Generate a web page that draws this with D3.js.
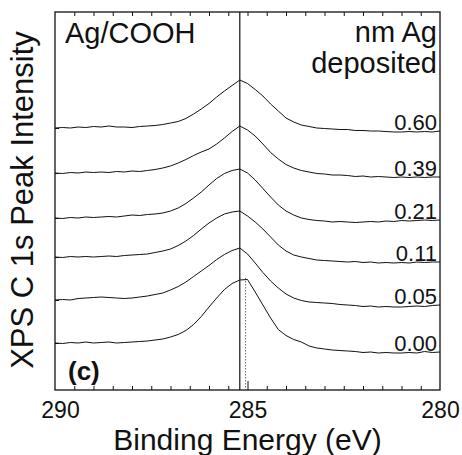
<!DOCTYPE html>
<html>
<head>
<meta charset="utf-8">
<script src="https://cdn.jsdelivr.net/npm/d3@7"></script>
<style>
  body { margin: 0; background: #fff; }
  text { font-family: "Liberation Sans", Arial, sans-serif; fill: #111; }
</style>
</head>
<body>
<div class="container"></div>
<script>
// binding energies (eV), shared by all spectra
const energy = [290, 289.8, 289.6, 289.4, 289.2, 289, 288.8, 288.6, 288.4, 288.2,
  288, 287.8, 287.6, 287.4, 287.2, 287, 286.8, 286.6, 286.4, 286.2,
  286, 285.8, 285.6, 285.4, 285.2, 285, 284.8, 284.6, 284.4, 284.2,
  284, 283.8, 283.6, 283.4, 283.2, 283, 282.8, 282.6, 282.4, 282.2,
  282, 281.8, 281.6, 281.4, 281.2, 281, 280.8, 280.6, 280.4, 280.2, 280];

// nm Ag deposited, one label per spectrum (top to bottom)
const coverage = ["0.60", "0.39", "0.21", "0.11", "0.05", "0.00"];

// stacked C 1s intensities (arb. units, offset already applied)
const s060 = [262, 262.5, 262, 263, 262.5, 263.5, 263, 264, 263, 263, 262.5, 263.5, 264, 264.5, 265.5, 267, 268.5, 271.5, 276, 281,
  286.5, 293, 299, 304.5, 310, 306.5, 300.5, 294, 286, 279, 272, 268, 265, 263.5, 262, 261.5, 261, 260.5, 260.5, 259.5,
  259.5, 259, 259, 258.5, 258, 258, 258.5, 258, 258.5, 258, 259];
const s039 = [217, 216.5, 217.5, 217, 218, 217.5, 218, 217.5, 218.5, 218, 219, 218.5, 219.5, 220.5, 222, 224, 227, 230.5, 234.5, 238,
  241, 246, 252, 258.5, 264, 260, 254, 246, 237.5, 231, 225.5, 222, 219.5, 218, 216.5, 216, 215, 215, 214.5, 213.5,
  214, 213, 213.5, 213, 212.5, 213, 212.5, 213, 212.5, 213, 213];
const s021 = [172, 171.5, 172.5, 172, 173, 172.5, 173, 173.5, 173, 174, 175, 174.5, 175.5, 176, 177, 179, 182, 186.5, 192, 198,
  205, 211.5, 216.5, 219.5, 221, 217, 210, 201.5, 193, 185, 179, 175, 172, 170.5, 169.5, 169, 168, 168.5, 168, 167.5,
  168, 168.5, 168, 169, 168.5, 169.5, 169, 169.5, 170, 169.5, 170];
const s011 = [133, 132.5, 133.5, 133, 133.5, 133, 133.5, 134, 133.5, 134.5, 135, 135.5, 136, 137.5, 139, 141, 144.5, 149, 154.5, 161,
  167, 172, 176, 178, 179, 174, 168, 161, 153, 145, 139, 135, 133, 131.5, 130, 129.5, 129, 128.5, 128, 128.5,
  127.5, 128, 127, 127.5, 127, 127.5, 127, 128, 127.5, 128, 128];
const s005 = [90, 90.5, 90, 91.5, 92, 92.5, 93, 92.5, 92, 91.5, 92, 93, 94, 95.5, 97, 100, 103.5, 108, 113.5, 119,
  124.5, 130.5, 135.5, 139.5, 142, 136, 127, 117.5, 109, 102, 96, 92, 89.5, 88, 87.5, 87, 86.5, 85.5, 85, 84.5,
  83.5, 84, 83, 83.5, 83, 83, 83.5, 84, 83.5, 84.5, 85];
const s000 = [47, 46.5, 47.5, 47, 48, 47, 47.5, 48, 47, 47.5, 48, 48.5, 49, 50, 51, 53, 55.5, 59.5, 65.5, 73.5,
  83, 92, 100.5, 106.5, 110, 110.5, 98, 85, 72, 60.5, 54.5, 50.5, 48, 44, 42, 41, 40, 39.5, 39, 38.5,
  37.5, 38, 37, 37.5, 37, 37, 37.5, 37, 38.5, 37.5, 38];
const spectra = [s060, s039, s021, s011, s005, s000];

const majorTicks = [290, 285, 280];
const minorTicks = [289.5, 289, 288.5, 288, 287.5, 287, 286.5, 286, 285.5, 284.5, 284, 283.5, 283, 282.5, 282, 281.5, 281, 280.5];
const refSolid = 285.2;   // solid reference line
const refDotted = 285.05; // dotted reference line

const svgW = 462, svgH = 455;
const plot = {left: 55, right: 440, top: 12, bottom: 390};

const svg = d3.select(".container").append("svg")
    .attr("width", svgW).attr("height", svgH);

const x = d3.scaleLinear().domain([290, 280]).range([plot.left, plot.right]);
const y = d3.scaleLinear().domain([0, 378]).range([plot.bottom, plot.top]);

// frame
svg.append("rect")
    .attr("x", plot.left).attr("y", plot.top)
    .attr("width", plot.right - plot.left).attr("height", plot.bottom - plot.top)
    .attr("fill", "none").attr("stroke", "#111").attr("stroke-width", 1.3);

// ticks (inward)
function tidy(g) { g.select(".domain").remove(); g.selectAll("line").attr("stroke", "#111"); }
svg.append("g").attr("transform", "translate(0," + plot.bottom + ")")
    .call(d3.axisTop(x).tickValues(minorTicks).tickSize(4).tickFormat("")).call(tidy);
svg.append("g").attr("transform", "translate(0," + plot.bottom + ")")
    .call(d3.axisTop(x).tickValues([285]).tickSize(9).tickFormat("")).call(tidy);
svg.append("g").attr("transform", "translate(0," + plot.top + ")")
    .call(d3.axisBottom(x).tickValues(minorTicks.concat([285])).tickSize(4).tickFormat("")).call(tidy);
svg.append("g").attr("transform", "translate(" + plot.left + ",0)")
    .call(d3.axisRight(y).tickValues(spectra.map(s => s[0])).tickSize(4).tickFormat("")).call(tidy);

// tick labels
const xLab = svg.append("g").attr("transform", "translate(0," + plot.bottom + ")")
    .call(d3.axisBottom(x).tickValues(majorTicks).tickSize(0).tickPadding(12).tickFormat(d3.format("d")));
xLab.select(".domain").remove();
xLab.selectAll("text").attr("font-size", "23px").attr("font-family", "Liberation Sans, Arial, sans-serif").attr("fill", "#111");
xLab.selectAll("text").filter(d => d === 290).attr("dx", 5);

// reference lines
svg.append("line")
    .attr("x1", x(refSolid)).attr("x2", x(refSolid))
    .attr("y1", plot.top).attr("y2", plot.bottom)
    .attr("stroke", "#111").attr("stroke-width", 1.2);
svg.append("line")
    .attr("x1", x(refDotted)).attr("x2", x(refDotted))
    .attr("y1", y(112)).attr("y2", plot.bottom)
    .attr("stroke", "#444").attr("stroke-width", 0.8).attr("stroke-dasharray", "1.5,1.5");

// spectra
const line = d3.line()
    .x((d, i) => x(energy[i]))
    .y(d => y(d));

svg.selectAll(".spec")
  .data(spectra)
  .enter()
    .append("path")
    .attr("class", "spec")
    .attr("d", line)
    .attr("fill", "none")
    .attr("stroke", "#111")
    .attr("stroke-width", 1);

// coverage labels at the right end of each spectrum
svg.selectAll(".cov")
  .data(spectra)
  .enter()
    .append("text")
    .attr("class", "cov")
    .attr("x", 437)
    .attr("y", d => y(d[d.length - 1]) - 1)
    .attr("text-anchor", "end")
    .attr("font-size", "22px")
    .text((d, i) => coverage[i]);

// annotations
svg.append("text").attr("x", 65).attr("y", 43).attr("font-size", "29px").text("Ag/COOH");
svg.append("text").attr("x", 437).attr("y", 42).attr("font-size", "29px").attr("text-anchor", "end").text("nm Ag");
svg.append("text").attr("x", 437).attr("y", 73).attr("font-size", "29px").attr("text-anchor", "end").text("deposited");
svg.append("text").attr("x", 68).attr("y", 380).attr("font-size", "26px").attr("font-weight", "bold").text("(c)");

// axis titles
svg.append("text")
    .attr("x", (plot.left + plot.right) / 2).attr("y", 450)
    .attr("text-anchor", "middle").attr("font-size", "30px")
    .text("Binding Energy (eV)");
svg.append("text")
    .attr("transform", "translate(33,200) rotate(-90)")
    .attr("text-anchor", "middle").attr("font-size", "31px")
    .text("XPS C 1s Peak Intensity");
</script>
</body>
</html>
